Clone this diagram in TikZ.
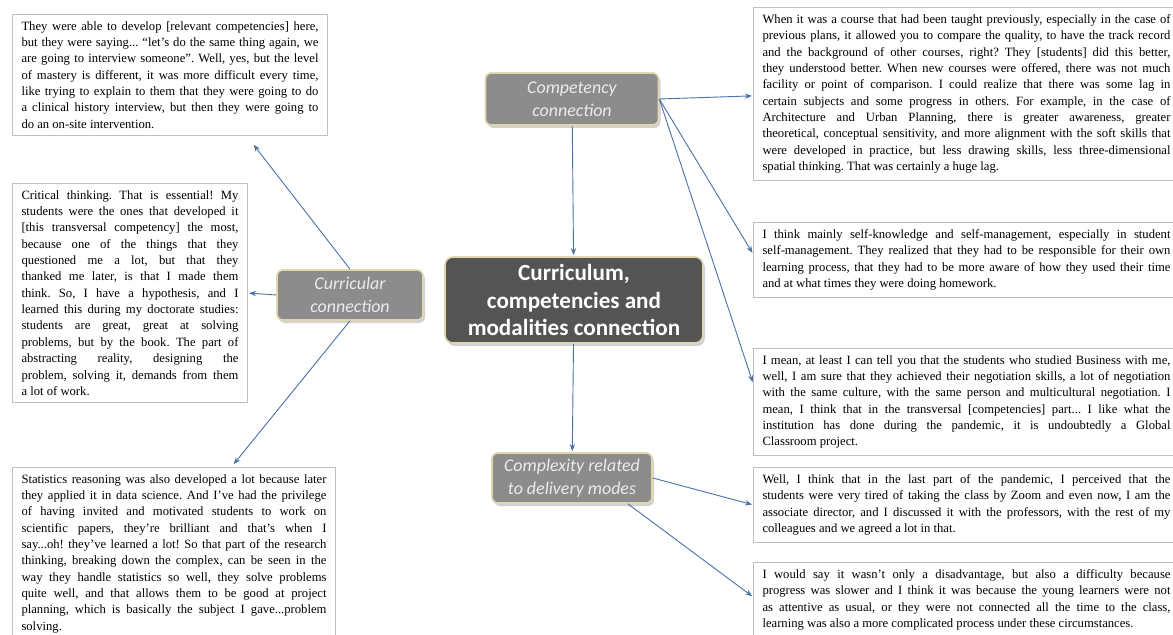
\documentclass[tikz,border=0pt]{standalone}
\usepackage{fontspec}
\setmainfont{Liberation Serif}
\newfontfamily\carlito{Carlito}
\usetikzlibrary{arrows.meta,calc,shadows}
\definecolor{bluefreccia}{RGB}{74,112,170}
\definecolor{grigio}{RGB}{140,140,140}
\definecolor{scuro}{RGB}{84,84,84}
\definecolor{oro}{RGB}{226,214,172}
\hyphenpenalty=10000
\frenchspacing
\tikzset{
>=Stealth,
box node/.style={draw=black!25,line width=1bp,fill=white,anchor=north west,
  inner xsep=9bp,inner ysep=7bp,align=justify,
  font=\fontsize{12.7}{16.4}\selectfont},
cat node/.style={draw=oro,line width=1.6bp,fill=grigio,rounded corners=6bp,
  text=white!92!black,align=center,inner sep=2bp,
  font=\carlito\itshape\fontsize{18}{23}\selectfont,
  drop shadow={shadow xshift=2bp,shadow yshift=-3bp,opacity=.35}},
main node/.style={draw=oro,line width=1.6bp,fill=scuro,rounded corners=8bp,
  text=white,align=center,minimum width=258bp,minimum height=86bp,
  font=\carlito\bfseries\fontsize{23.2}{28}\selectfont,
  drop shadow={shadow xshift=2bp,shadow yshift=-3bp,opacity=.35}},
freccia/.style={->,line width=0.9bp,color=bluefreccia,shorten >=1bp}}

\begin{document}
\begin{tikzpicture}[x=1bp,y=-1bp]

\useasboundingbox (0,0) rectangle (1173,635);
\clip (0,0) rectangle (1173,635);
\fill[white] (0,0) rectangle (1173,635);

\node[main node] (main) at (574,300) {Curriculum,\\competencies and\\modalities connection};
\node[cat node,minimum width=173bp,minimum height=52bp] (comp) at (572,99) {Competency\\connection};
\node[cat node,minimum width=146bp,minimum height=50bp] (cur) at (350,295) {Curricular\\connection};
\node[cat node,minimum width=160bp,minimum height=50bp] (compl) at (572,478) {Complexity related\\to delivery modes};

\node[box node,text width=297bp] (l1) at (12,14) {They were able to develop [relevant competencies] here,\linebreak
but they were saying... ``let's do the same thing again, we\linebreak
are going to interview someone''. Well, yes, but the level\linebreak
of mastery is different, it was more difficult every time,\linebreak
like trying to explain to them that they were going to do\linebreak
a clinical history interview, but then they were going to\linebreak
do an on-site intervention.};

\node[box node,text width=217bp] (l2) at (12,183) {Critical thinking. That is essential! My\linebreak
students were the ones that developed it\linebreak
{[}this transversal competency] the most,\linebreak
because one of the things that they\linebreak
questioned me a lot, but that they\linebreak
thanked me later, is that I made them\linebreak
think. So, I have a hypothesis, and I\linebreak
learned this during my doctorate studies:\linebreak
students are great, great at solving\linebreak
problems, but by the book. The part of\linebreak
abstracting reality, designing the\linebreak
problem, solving it, demands from them\linebreak
a lot of work.};

\node[box node,text width=305bp] (l3) at (12,467) {Statistics reasoning was also developed a lot because later\linebreak
they applied it in data science. And I've had the privilege\linebreak
of having invited and motivated students to work on\linebreak
scientific papers, they're brilliant and that's when I\linebreak
say...oh! they've learned a lot! So that part of the research\linebreak
thinking, breaking down the complex, can be seen in the\linebreak
way they handle statistics so well, they solve problems\linebreak
quite well, and that allows them to be good at project\linebreak
planning, which is basically the subject I gave...problem\linebreak
solving.};

\node[box node,text width=408bp] (r1) at (753,7) {When it was a course that had been taught previously, especially in the case of\linebreak
previous plans, it allowed you to compare the quality, to have the track record\linebreak
and the background of other courses, right? They [students] did this better,\linebreak
they understood better. When new courses were offered, there was not much\linebreak
facility or point of comparison. I could realize that there was some lag in\linebreak
certain subjects and some progress in others. For example, in the case of\linebreak
Architecture and Urban Planning, there is greater awareness, greater\linebreak
theoretical, conceptual sensitivity, and more alignment with the soft skills that\linebreak
were developed in practice, but less drawing skills, less three-dimensional\linebreak
spatial thinking. That was certainly a huge lag.};

\node[box node,text width=408bp] (r2) at (753,222) {I think mainly self-knowledge and self-management, especially in student\linebreak
self-management. They realized that they had to be responsible for their own\linebreak
learning process, that they had to be more aware of how they used their time\linebreak
and at what times they were doing homework.};

\node[box node,text width=408bp] (r3) at (753,348) {I mean, at least I can tell you that the students who studied Business with me,\linebreak
well, I am sure that they achieved their negotiation skills, a lot of negotiation\linebreak
with the same culture, with the same person and multicultural negotiation. I\linebreak
mean, I think that in the transversal [competencies] part... I like what the\linebreak
institution has done during the pandemic, it is undoubtedly a Global\linebreak
Classroom project.};

\node[box node,text width=408bp] (r4) at (753,467) {Well, I think that in the last part of the pandemic, I perceived that the\linebreak
students were very tired of taking the class by Zoom and even now, I am the\linebreak
associate director, and I discussed it with the professors, with the rest of my\linebreak
colleagues and we agreed a lot in that.};

\node[box node,text width=408bp] (r5) at (753,562) {I would say it wasn't only a disadvantage, but also a difficulty because\linebreak
progress was slower and I think it was because the young learners were not\linebreak
as attentive as usual, or they were not connected all the time to the class,\linebreak
learning was also a more complicated process under these circumstances.};

\path[freccia] (comp) edge (main);
\path[freccia] (main) edge (compl);

\path[freccia] (cur.north) edge ($(l1.south east)+(-75,8)$);
\path[freccia] (cur.west) edge (l2.east);
\path[freccia] (cur.south) edge ($(l3.north east)+(-103,-2)$);

\path[freccia] (comp.east) edge ([yshift=-2bp]r1.west);
\path[freccia] (comp.east) edge ([yshift=6bp]r2.west);
\path[freccia] (comp.east) edge ([yshift=19bp]r3.west);

\path[freccia] (compl.east) edge (r4.west);
\path[freccia] ($(compl.south east)+(-25,0)$) edge ([yshift=3bp]r5.west);

\end{tikzpicture}
\end{document}
